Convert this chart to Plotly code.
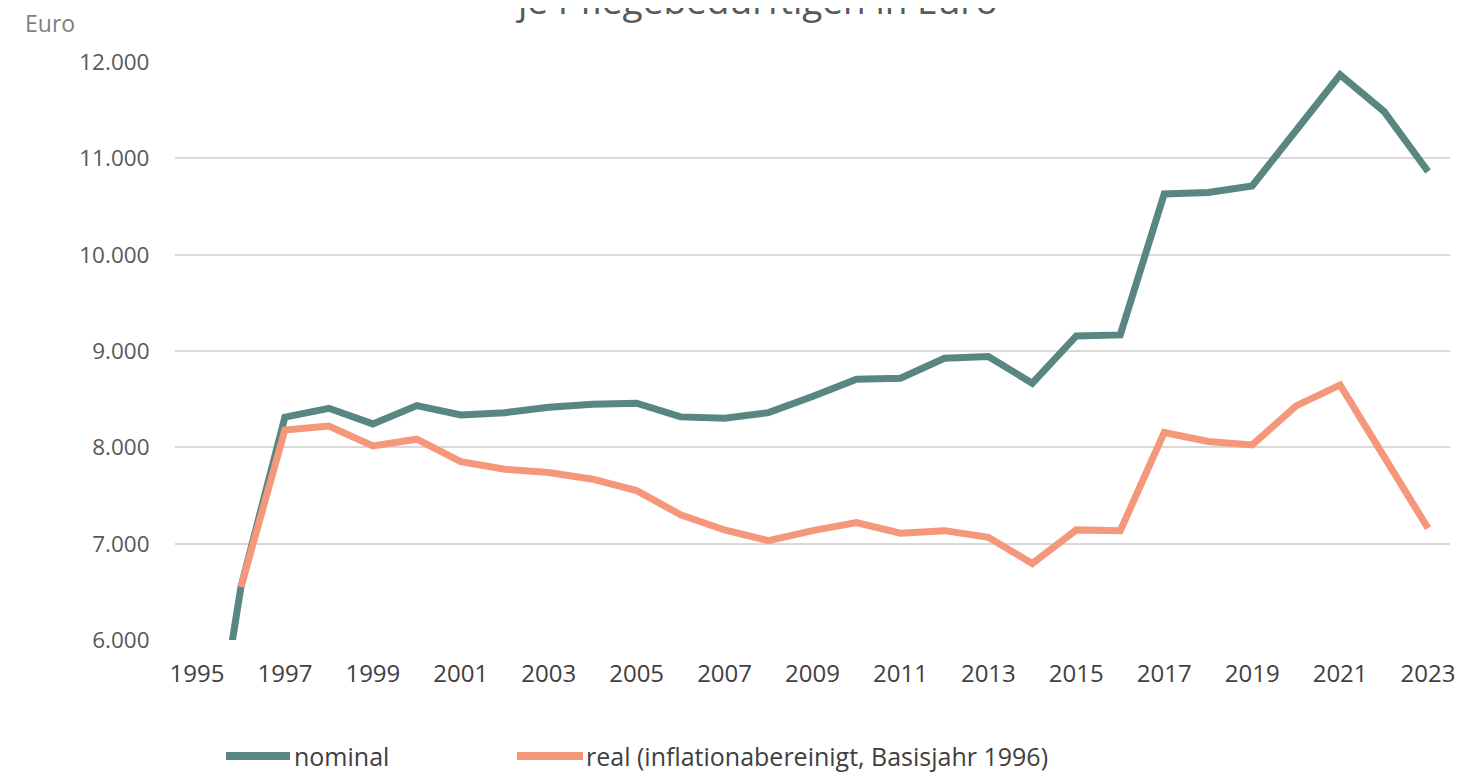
import plotly.graph_objects as go

years = list(range(1995, 2024))
nominal = [3700, 6550, 8313, 8405, 8243, 8433, 8336, 8360, 8416, 8447, 8458,
           8316, 8302, 8360, 8527, 8707, 8717, 8925, 8942, 8666, 9157, 9167,
           10631, 10645, 10714, 11290, 11867, 11486, 10863]
real_years = list(range(1996, 2024))
real = [6550, 8181, 8222, 8015, 8084, 7852, 7773, 7738, 7669, 7551,
        7300, 7142, 7031, 7135, 7218, 7108, 7135, 7066, 6793, 7143, 7135,
        8153, 8060, 8025, 8430, 8648, 7904, 7160]
tick_years = list(range(1995, 2024, 2))
y_ticks = [6000, 7000, 8000, 9000, 10000, 11000, 12000]

names = ["nominal", "real (inflationabereinigt, Basisjahr 1996)"]
colors = ["#588680", "#f5977a"]
title_text = "je Pflegebedürftigen in Euro"
unit_text = "Euro"

W, H = 1474, 764
L, R, T, B = 167, 32, 54, 132
PW, PH = W - L - R, H - T - B

fig = go.Figure()
fig.add_trace(go.Scatter(x=years, y=nominal, mode="lines", name=names[0],
                         line=dict(color=colors[0], width=7), showlegend=False))
fig.add_trace(go.Scatter(x=real_years, y=real, mode="lines", name=names[1],
                         line=dict(color=colors[1], width=7), showlegend=False))

font = "Open Sans, DejaVu Sans, sans-serif"
fig.update_layout(
    width=W, height=H,
    margin=dict(l=L, r=R, t=T, b=B),
    plot_bgcolor="white", paper_bgcolor="white",
    separators=",.",
    font=dict(family=font, size=22, color="#595959"),
    xaxis=dict(range=[1994.5, 2023.5], tickmode="array", tickvals=tick_years,
               ticktext=[str(y) for y in tick_years], showgrid=False,
               zeroline=False, showline=False, ticks="outside", ticklen=12,
               tickcolor="rgba(0,0,0,0)", tickfont=dict(size=24, color="#404040")),
    yaxis=dict(range=[6000, 12000], tickmode="array", tickvals=y_ticks,
               tickformat=",d", showgrid=True, gridcolor="#d9d9d9", gridwidth=2,
               zeroline=False, showline=False, ticks="outside", ticklen=20,
               tickcolor="rgba(0,0,0,0)", tickfont=dict(size=22.5, color="#595959")),
)

def px_x(x):
    return (x - L) / PW

def px_y(y):
    return (H - B - y) / PH

# Title (top cut off as in reference)
fig.add_annotation(text=title_text, xref="paper", yref="paper", x=px_x(748), y=px_y(19),
                   xanchor="center", yanchor="bottom", showarrow=False,
                   font=dict(size=37, color="#595959", family=font))
fig.add_annotation(text=unit_text, xref="paper", yref="paper", x=px_x(16),
                   y=px_y(15), xanchor="left", yanchor="middle", borderpad=0,
                   showarrow=False, font=dict(size=23, color="#7f7f7f", family=font))

# Manual legend
leg_y = px_y(748)
leg_items = [(218, 282, 285), (509, 575, 577)]
for (x0, x1, xt), name, c in zip(leg_items, names, colors):
    fig.add_shape(type="line", xref="paper", yref="paper",
                  x0=px_x(x0), x1=px_x(x1), y0=leg_y, y1=leg_y,
                  line=dict(color=c, width=8))
    fig.add_annotation(text=name, xref="paper", yref="paper", x=px_x(xt), y=leg_y,
                       xanchor="left", yanchor="middle", showarrow=False, borderpad=0,
                       font=dict(size=25, color="#404040", family=font))

fig.write_html("out.html")
